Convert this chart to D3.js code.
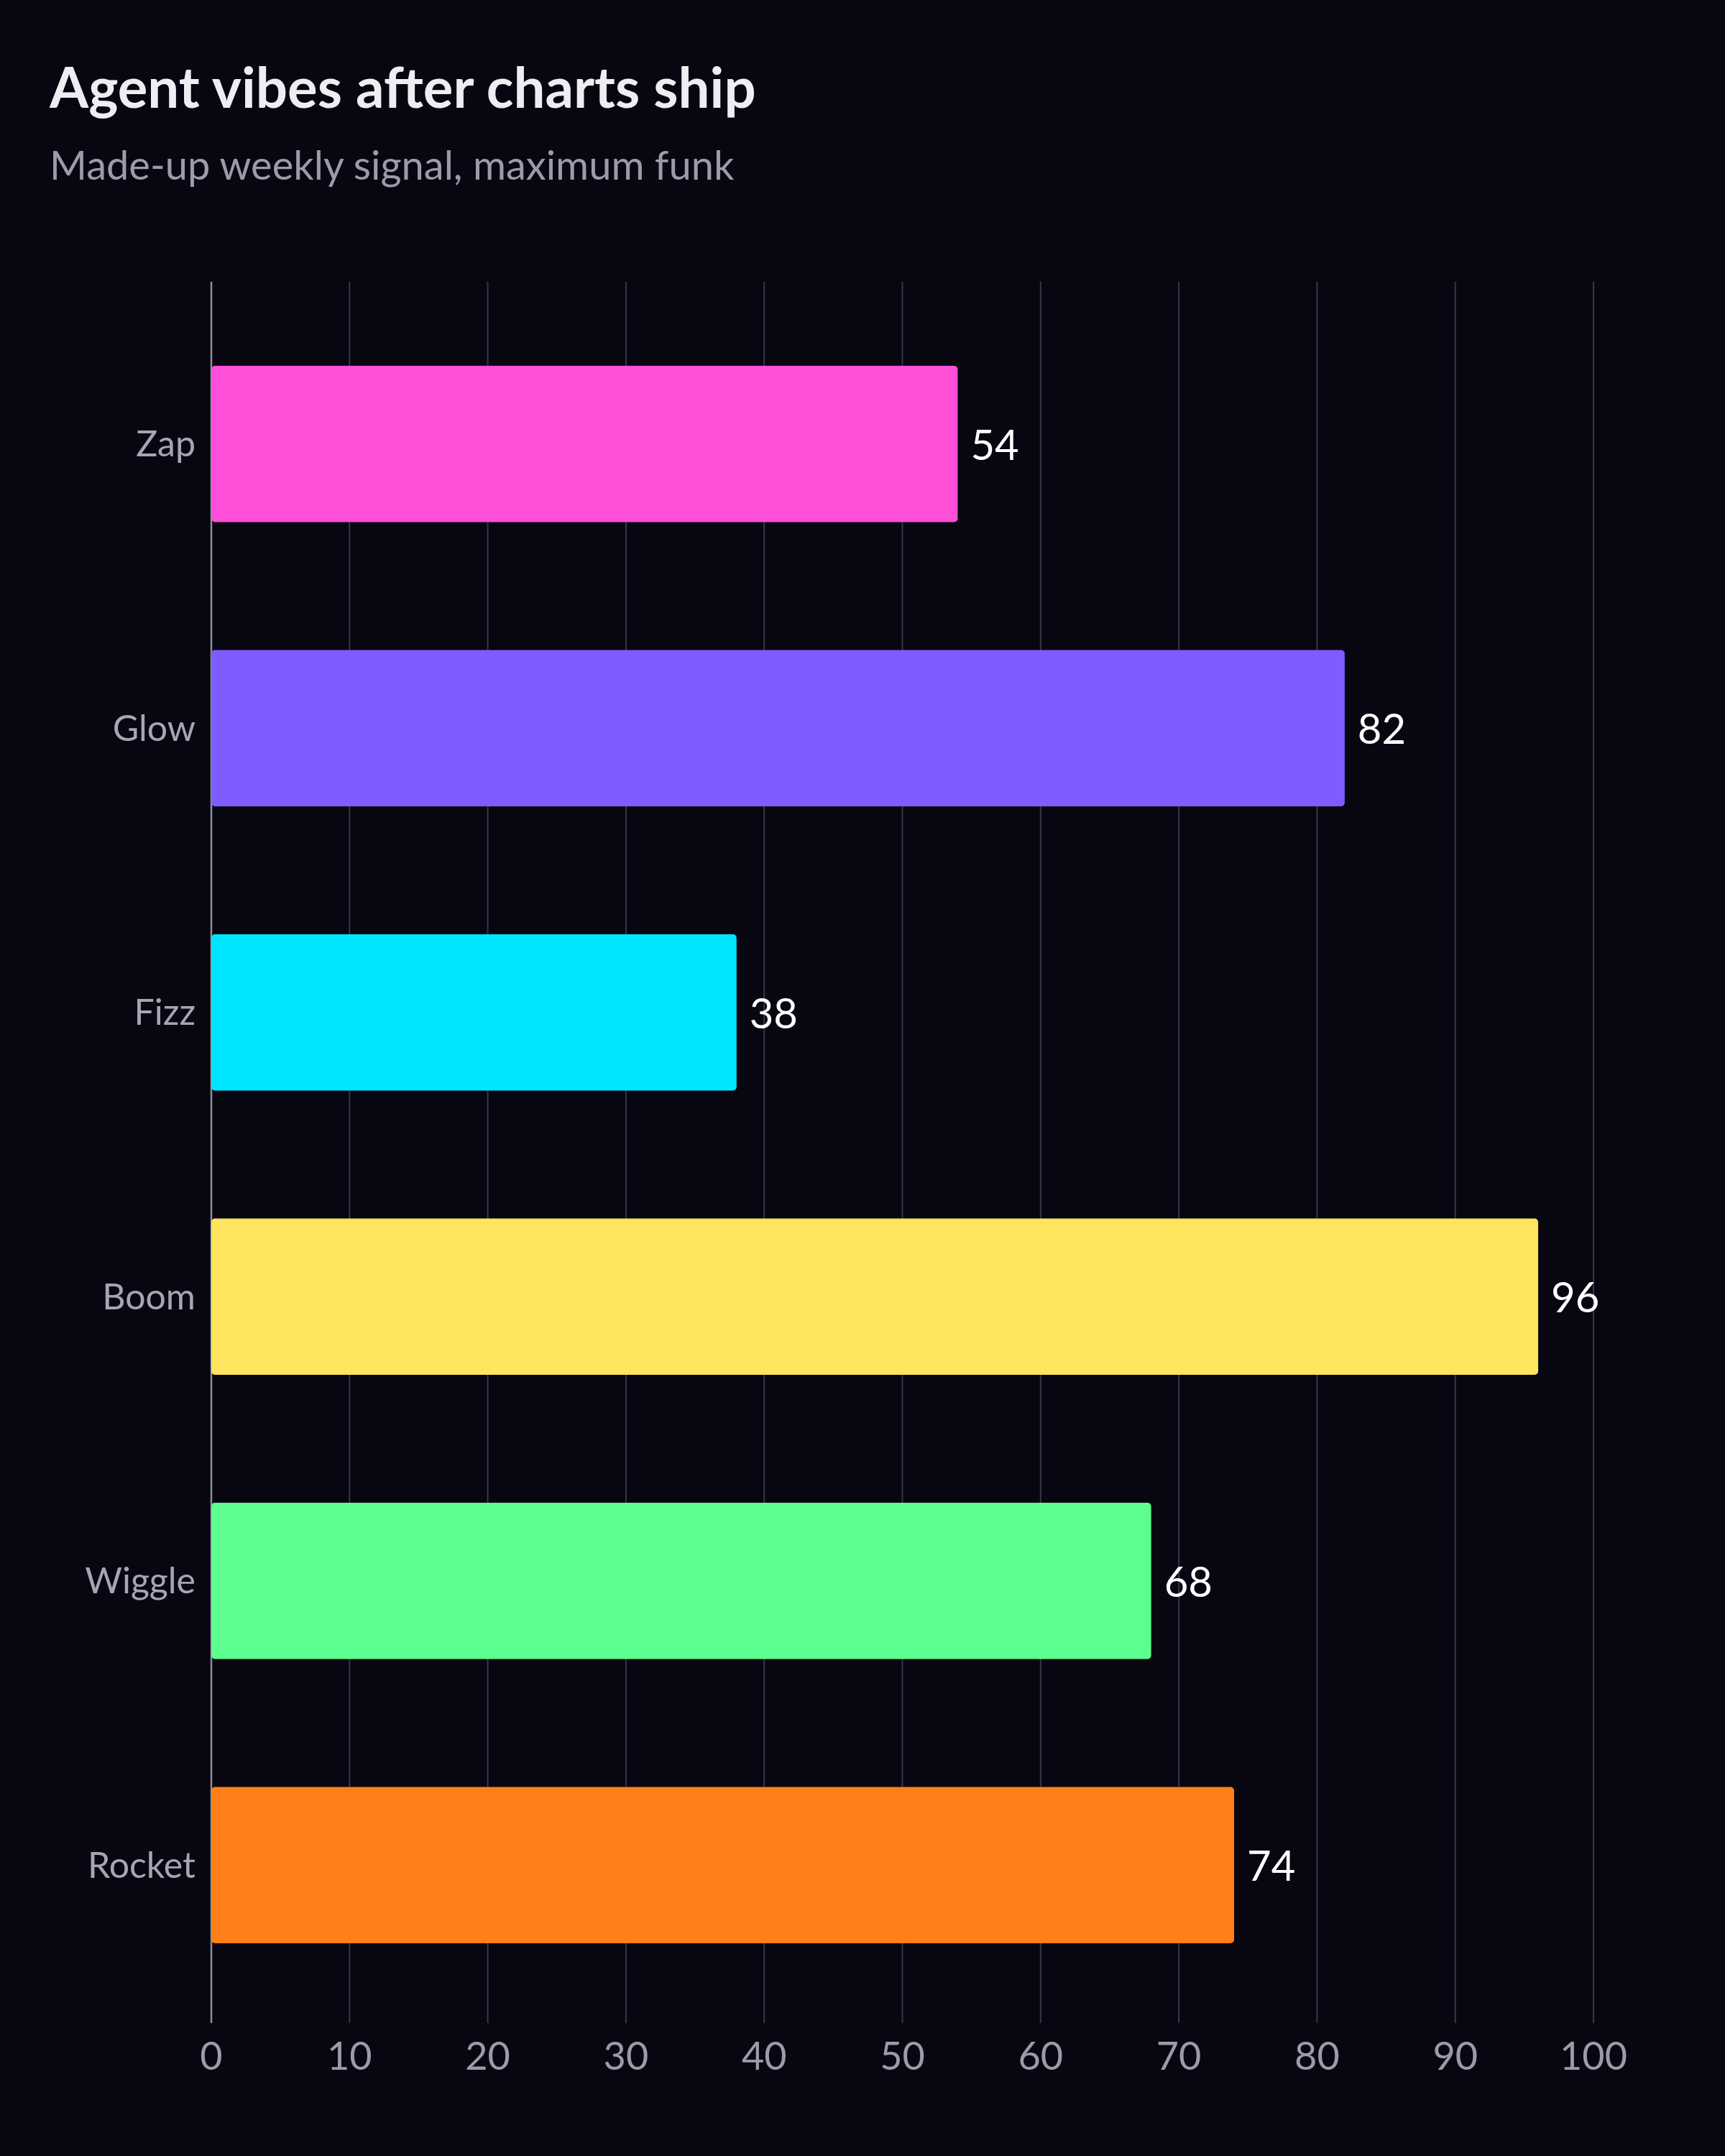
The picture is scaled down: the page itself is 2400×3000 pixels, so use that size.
<!DOCTYPE html>
<html><head><meta charset="utf-8">
<script src="https://cdn.jsdelivr.net/npm/d3@7"></script>
<style>
  body { margin: 0; background: #080711; }
  text { font-family: "Comic Sans MS", "Lato", "Open Sans", sans-serif; }
</style></head>
<body>
<div id="chart"></div>
<script>
const categories = ['Zap', 'Glow', 'Fizz', 'Boom', 'Wiggle', 'Rocket']
const values = [54, 82, 38, 96, 68, 74]
const colors = ['#ff4fd8', '#7f5cff', '#00e5ff', '#ffe45e', '#5cff8f', '#ff7f1a']
const ticks = [0, 10, 20, 30, 40, 50, 60, 70, 80, 90, 100]

const W = 2400, H = 3000
const svg = d3.select('#chart').append('svg')
  .attr('width', W).attr('height', H)

svg.append('rect').attr('width', W).attr('height', H).attr('fill', '#080711')

svg.append('text')
  .attr('x', 69).attr('y', 150)
  .attr('fill', '#eeeef2').attr('font-size', 78).attr('font-weight', 'bold')
  .text('Agent vibes after charts ship')

svg.append('text')
  .attr('x', 69).attr('y', 250)
  .attr('fill', '#9a9caa').attr('font-size', 56)
  .text('Made-up weekly signal, maximum funk')

const x = d3.scaleLinear().domain([0, 100]).range([294, 2217])
const y = d3.scaleBand().domain(categories).range([420, 2793])
  .paddingInner(0.45).paddingOuter(0.225)

// grid
svg.selectAll('line.grid')
  .data(ticks)
  .enter().append('line')
  .attr('class', 'grid')
  .attr('x1', d => x(d)).attr('x2', d => x(d))
  .attr('y1', 392).attr('y2', 2815)
  .attr('stroke', d => d === 0 ? '#8a8e9e' : '#33384c')
  .attr('stroke-width', d => d === 0 ? 2.5 : 2)

// tick labels
svg.selectAll('text.tick')
  .data(ticks)
  .enter().append('text')
  .attr('class', 'tick')
  .attr('x', d => x(d)).attr('y', 2880)
  .attr('text-anchor', 'middle')
  .attr('fill', '#9a9caa').attr('font-size', 54)
  .text(d => d)

const data = categories.map((c, i) => ({ c, v: values[i], color: colors[i] }))

svg.selectAll('rect.bar')
  .data(data)
  .enter().append('rect')
  .attr('class', 'bar')
  .attr('x', x(0)).attr('y', d => y(d.c))
  .attr('width', d => x(d.v) - x(0))
  .attr('height', y.bandwidth())
  .attr('rx', 5)
  .attr('fill', d => d.color)

svg.selectAll('text.cat')
  .data(data)
  .enter().append('text')
  .attr('class', 'cat')
  .attr('x', 272).attr('y', d => y(d.c) + y.bandwidth() / 2)
  .attr('dy', '0.35em')
  .attr('text-anchor', 'end')
  .attr('fill', '#a4a6b4').attr('font-size', 50)
  .text(d => d.c)

svg.selectAll('text.val')
  .data(data)
  .enter().append('text')
  .attr('class', 'val')
  .attr('x', d => x(d.v) + 18).attr('y', d => y(d.c) + y.bandwidth() / 2)
  .attr('dy', '0.38em')
  .attr('fill', '#ffffff').attr('font-size', 58)
  .text(d => d.v)
</script>
</body></html>
